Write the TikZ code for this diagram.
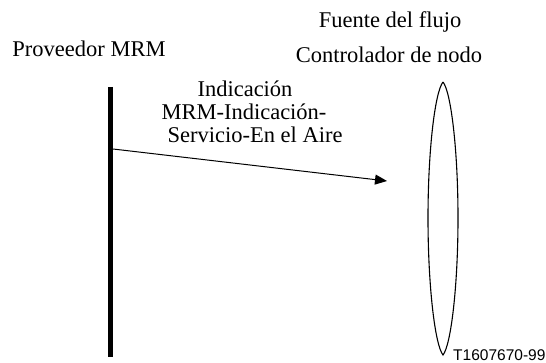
\documentclass[tikz,border=0pt]{standalone}
\usepackage{fontspec}
\setmainfont{Liberation Serif}
\newfontfamily\labelsans{Liberation Sans}
\usetikzlibrary{arrows.meta}
\tikzset{
  lbl/.style={anchor=base, inner sep=0pt, font=\fontsize{22.5}{23}\selectfont},
  msg/.style={line width=1pt, -{Triangle[length=12pt,width=10pt]}},
  bar/.style={line width=5pt},
  lens/.style={line width=1.1pt}
}
\begin{document}
\begin{tikzpicture}[x=1pt,y=-1pt]
\useasboundingbox (0,0) rectangle (546,363);
% texts
\node[lbl] (prov) at (89,57) {Proveedor MRM};
\node[lbl] (fuente) at (390,28) {Fuente del flujo};
\node[lbl] (ctrl) at (389,63) {Controlador de nodo};
\node[lbl] (ind1) at (245,97) {Indicación};
\node[lbl] (ind2) at (244,120) {MRM-Indicación-};
\node[lbl] (ind3) at (255,143) {Servicio-En el Aire};
\node[anchor=base west, inner sep=0pt, font=\labelsans\fontsize{15.5}{16}\selectfont] (code) at (453,360) {T1607670-99};
% provider bar
\coordinate (bt) at (110,87);
\coordinate (bb) at (110,357);
\draw[bar] (bt) -- (bb);
% lens
\coordinate (lt) at (443,82);
\coordinate (lb) at (443,355);
\coordinate (ll) at (428,218);
\coordinate (lr) at (458,218);
\draw[lens] (lt) .. controls (435,92) and (428,150) .. (ll)
                 .. controls (428,286) and (435,345) .. (lb)
                 .. controls (451,345) and (458,286) .. (lr)
                 .. controls (458,150) and (451,92) .. (lt);
% arrow
\coordinate (a1) at (113,149);
\coordinate (a2) at (387,181);
\draw[msg] (a1) -- (a2);
\end{tikzpicture}
\end{document}
